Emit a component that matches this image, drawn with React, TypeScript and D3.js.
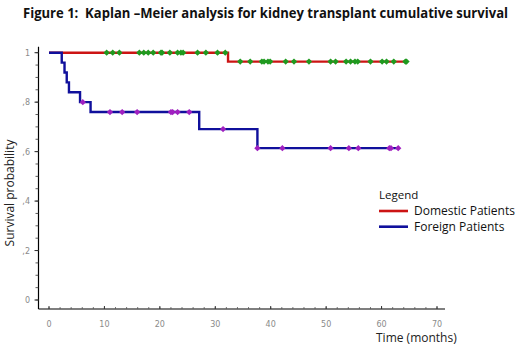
import React from "react";
import * as d3 from "d3";

const W = 531;
const H = 357;

const xTicks = [0, 10, 20, 30, 40, 50, 60, 70];
const yTicks = [0, 0.2, 0.4, 0.6, 0.8, 1];
const yTickLabels = ["0", ",2", ",4", ",6", ",8", "1"];

const domesticTimes = [0, 32.3, 64.6];
const domesticSurv = [1, 0.964, 0.964];
const domesticCensor = [
  10.4, 11.5, 12.7, 16.3, 17.1, 17.9, 18.8, 20.2, 20.4, 21.8, 23.2, 23.8, 24.2,
  26.8, 28.3, 30.4, 31.8, 34.5, 36.3, 38.4, 38.8, 39.5, 39.9, 42.7, 44.2, 46.9,
  50.8, 51.7, 53.6, 54.4, 55.2, 55.7, 58.0, 60.1, 60.9, 62.2, 64.3, 64.5,
];

const foreignTimes = [0, 2.3, 2.8, 3.2, 3.6, 5.6, 7.5, 27.1, 37.6, 63.0];
const foreignSurv = [1, 0.96, 0.92, 0.88, 0.84, 0.8, 0.76, 0.691, 0.614, 0.614];
const foreignCensor = [
  6.1, 11.0, 13.2, 15.9, 22.0, 22.3, 23.2, 25.3, 31.4, 37.6, 42.1, 50.8, 54.1,
  55.8, 61.4, 61.7, 63.0,
];

const seriesNames = ["Domestic Patients", "Foreign Patients"];
const lineColors = ["#cc1414", "#10109c"];
const markColors = ["#1f9a1f", "#a020c0"];

function survAt(times: number[], surv: number[], t: number) {
  let s = surv[0];
  for (let i = 0; i < times.length; i++) if (times[i] <= t + 1e-9) s = surv[i];
  return s;
}

export default function App() {
  const x = d3.scaleLinear().domain([0, 70]).range([49, 437]);
  const y = d3.scaleLinear().domain([0, 1]).range([300, 52.7]);
  const line = d3
    .line<[number, number]>()
    .x((d) => x(d[0]))
    .y((d) => y(d[1]))
    .curve(d3.curveStepAfter);
  const dom: [number, number][] = domesticTimes.map((t, i) => [t, domesticSurv[i]]);
  const frn: [number, number][] = foreignTimes.map((t, i) => [t, foreignSurv[i]]);
  const marker = d3.symbol().type(d3.symbolSquare).size(20)();
  const axisX0 = 38.5;
  const axisY0 = 309;
  const xMinor = d3.range(0, 71, 2);
  const yMinor = d3.range(0, 1.0001, 0.05);
  const tickFont = "'DejaVu Sans', sans-serif";
  const textFont = "'Open Sans', sans-serif";

  return (
    <svg
      width={W}
      height={H}
      style={{ position: "absolute", left: 0, top: 0, background: "#fff" }}
    >
      <text
        x={23}
        y={17.5}
        fontFamily={textFont}
        fontWeight="bold"
        fontSize={13.5}
        textLength={485}
        lengthAdjust="spacingAndGlyphs"
        fill="#111"
        style={{ whiteSpace: "pre" }}
      >
        {"Figure 1:  Kaplan \u2013Meier analysis for kidney transplant cumulative survival"}
      </text>

      {/* axes */}
      <line x1={axisX0} y1={46.7} x2={axisX0} y2={axisY0} stroke="#000" strokeWidth={1.2} />
      <line x1={axisX0} y1={axisY0} x2={445} y2={axisY0} stroke="#000" strokeWidth={1.2} />
      {yMinor.map((v, i) => (
        <line key={"ym" + i} x1={axisX0 - 3} x2={axisX0} y1={y(v)} y2={y(v)} stroke="#333" strokeWidth={0.8} />
      ))}
      {yTicks.map((v, i) => (
        <g key={"yt" + i}>
          <line x1={axisX0 - 4} x2={axisX0} y1={y(v)} y2={y(v)} stroke="#333" strokeWidth={1} />
          <text x={30} y={y(v) + 3} textAnchor="end" fontFamily={tickFont} fontSize={8} fill="#8a8a8a">
            {yTickLabels[i]}
          </text>
        </g>
      ))}
      {xMinor.map((v, i) => (
        <line key={"xm" + i} x1={x(v)} x2={x(v)} y1={axisY0 - 2} y2={axisY0} stroke="#555" strokeWidth={0.8} />
      ))}
      {xTicks.map((v, i) => (
        <g key={"xt" + i}>
          <line x1={x(v)} x2={x(v)} y1={axisY0 - 3} y2={axisY0} stroke="#333" strokeWidth={1} />
          <text x={x(v)} y={327} textAnchor="middle" fontFamily={tickFont} fontSize={8} fill="#8a8a8a">
            {v}
          </text>
        </g>
      ))}

      <text
        transform={`translate(14,193) rotate(-90)`}
        textAnchor="middle"
        fontFamily={textFont}
        fontSize={12}
        fill="#222"
      >
        Survival probability
      </text>
      <text x={376} y={342} fontFamily={textFont} fontSize={12} fill="#222">
        Time (months)
      </text>

      {/* curves */}
      <path d={line(dom) || ""} fill="none" stroke={lineColors[0]} strokeWidth={2.4} />
      <path d={line(frn) || ""} fill="none" stroke={lineColors[1]} strokeWidth={2.4} />
      {domesticCensor.map((t, i) => (
        <path
          key={"dc" + i}
          d={marker || ""}
          transform={`translate(${x(t)},${y(survAt(domesticTimes, domesticSurv, t))}) rotate(45)`}
          fill={markColors[0]}
        />
      ))}
      {foreignCensor.map((t, i) => (
        <path
          key={"fc" + i}
          d={marker || ""}
          transform={`translate(${x(t)},${y(survAt(foreignTimes, foreignSurv, t))}) rotate(45)`}
          fill={markColors[1]}
        />
      ))}

      {/* legend */}
      <text x={379} y={199} fontFamily={textFont} fontSize={11.5} fill="#111">
        Legend
      </text>
      {seriesNames.map((name, i) => (
        <g key={"lg" + i}>
          <line x1={379} x2={408} y1={211 + i * 15.7} y2={211 + i * 15.7} stroke={lineColors[i]} strokeWidth={2.6} />
          <text x={414} y={215 + i * 15.7} fontFamily={textFont} fontSize={12} fill="#111">
            {name}
          </text>
        </g>
      ))}
    </svg>
  );
}
